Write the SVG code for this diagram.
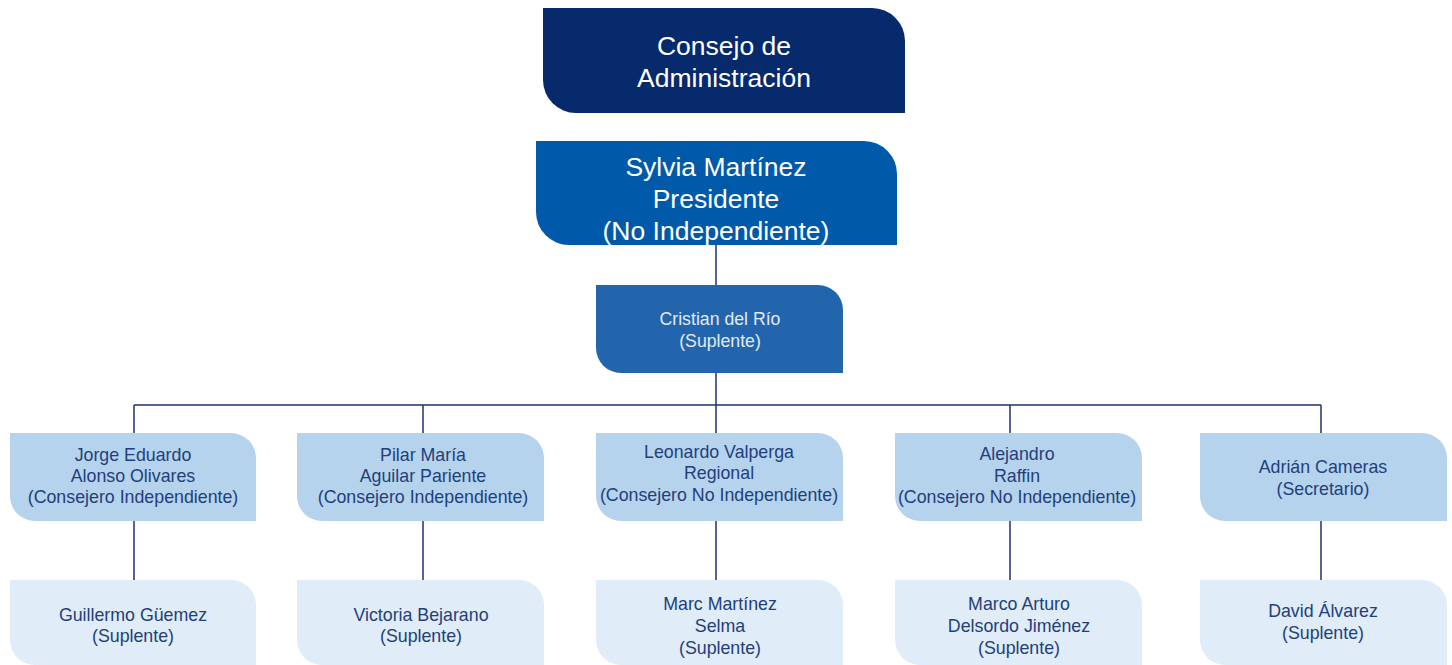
<svg xmlns="http://www.w3.org/2000/svg" width="1452" height="665" viewBox="0 0 1452 665">
<style>
text{font-family:"Liberation Sans",Arial,sans-serif;text-anchor:middle}
.t1{fill:#ffffff;font-size:26.5px}
.t2{fill:#e2eaf6;font-size:17.7px}
.t3{fill:#223f7a;font-size:17.8px}
.c{stroke:#1e3270;stroke-width:1.5;fill:none}
</style>
<rect width="1452" height="665" fill="#ffffff"/>
<g id="connectors">
<path class="c" d="M716 245V285M716 373V405M134 405H1321M134 405V433M423 405V433M716 405V433M1010 405V433M1321 405V433"/>
<path class="c" d="M134 521V580M423 521V580M716 521V580M1010 521V580M1321 521V580"/>
</g>
<g id="consejo">
<path d="M543 8H872A33 33 0 0 1 905 41V113H576A33 33 0 0 1 543 80Z" fill="#062a6b"/>
<text class="t1" x="724" y="55">Consejo de</text>
<text class="t1" x="724" y="87">Administración</text>
</g>
<g id="presidente">
<path d="M536 141H864A33 33 0 0 1 897 174V245H569A33 33 0 0 1 536 212Z" fill="#0059a9"/>
<text class="t1" x="716" y="176">Sylvia Martínez</text>
<text class="t1" x="716" y="208">Presidente</text>
<text class="t1" x="716" y="240">(No Independiente)</text>
</g>
<g id="suplente-presidente">
<path d="M596 285H818A25 25 0 0 1 843 310V373H621A25 25 0 0 1 596 348Z" fill="#2365ac"/>
<text class="t2" x="720" y="325">Cristian del Río</text>
<text class="t2" x="720" y="347">(Suplente)</text>
</g>
<g id="jorge">
<path d="M10 433H231A25 25 0 0 1 256 458V521H35A25 25 0 0 1 10 496Z" fill="#b6d3ee"/>
<text class="t3" x="133" y="461">Jorge Eduardo</text>
<text class="t3" x="133" y="482">Alonso Olivares</text>
<text class="t3" x="133" y="503">(Consejero Independiente)</text>
</g>
<g id="pilar">
<path d="M297 433H519A25 25 0 0 1 544 458V521H322A25 25 0 0 1 297 496Z" fill="#b6d3ee"/>
<text class="t3" x="423" y="461">Pilar María</text>
<text class="t3" x="423" y="482">Aguilar Pariente</text>
<text class="t3" x="423" y="503">(Consejero Independiente)</text>
</g>
<g id="leonardo">
<path d="M596 433H818A25 25 0 0 1 843 458V521H621A25 25 0 0 1 596 496Z" fill="#b6d3ee"/>
<text class="t3" x="719" y="458">Leonardo Valperga</text>
<text class="t3" x="719" y="479">Regional</text>
<text class="t3" x="719" y="501">(Consejero No Independiente)</text>
</g>
<g id="alejandro">
<path d="M895 433H1117A25 25 0 0 1 1142 458V521H920A25 25 0 0 1 895 496Z" fill="#b6d3ee"/>
<text class="t3" x="1017" y="460">Alejandro</text>
<text class="t3" x="1017" y="482">Raffin</text>
<text class="t3" x="1017" y="503">(Consejero No Independiente)</text>
</g>
<g id="adrian">
<path d="M1200 433H1422A25 25 0 0 1 1447 458V521H1225A25 25 0 0 1 1200 496Z" fill="#b6d3ee"/>
<text class="t3" x="1323" y="473">Adrián Cameras</text>
<text class="t3" x="1323" y="495">(Secretario)</text>
</g>
<g id="guillermo">
<path d="M10 580H231A25 25 0 0 1 256 605V665H35A25 25 0 0 1 10 640Z" fill="#e0ecf8"/>
<text class="t3" x="133" y="621">Guillermo Güemez</text>
<text class="t3" x="133" y="642">(Suplente)</text>
</g>
<g id="victoria">
<path d="M297 580H519A25 25 0 0 1 544 605V665H322A25 25 0 0 1 297 640Z" fill="#e0ecf8"/>
<text class="t3" x="421" y="621">Victoria Bejarano</text>
<text class="t3" x="421" y="642">(Suplente)</text>
</g>
<g id="marc">
<path d="M596 580H818A25 25 0 0 1 843 605V665H621A25 25 0 0 1 596 640Z" fill="#e0ecf8"/>
<text class="t3" x="720" y="610">Marc Martínez</text>
<text class="t3" x="720" y="632">Selma</text>
<text class="t3" x="720" y="654">(Suplente)</text>
</g>
<g id="marco">
<path d="M895 580H1117A25 25 0 0 1 1142 605V665H920A25 25 0 0 1 895 640Z" fill="#e0ecf8"/>
<text class="t3" x="1019" y="610">Marco Arturo</text>
<text class="t3" x="1019" y="632">Delsordo Jiménez</text>
<text class="t3" x="1019" y="654">(Suplente)</text>
</g>
<g id="david">
<path d="M1200 580H1422A25 25 0 0 1 1447 605V665H1225A25 25 0 0 1 1200 640Z" fill="#e0ecf8"/>
<text class="t3" x="1323" y="617">David Álvarez</text>
<text class="t3" x="1323" y="639">(Suplente)</text>
</g>
</svg>
